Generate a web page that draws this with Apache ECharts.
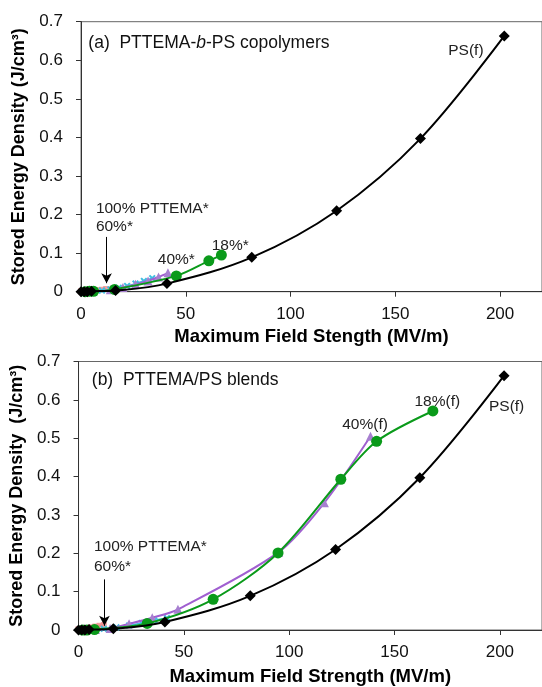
<!DOCTYPE html>
<html>
<head>
<meta charset="utf-8">
<script src="https://cdn.jsdelivr.net/npm/echarts@6/dist/echarts.min.js"></script>
<style>html,body{margin:0;padding:0;background:#fff}#c{width:542px;height:687px}</style>
</head>
<body>
<div id="c"></div>
<script>
// ---- data ----
const xTicks = [0, 50, 100, 150, 200];
const yTicks = [0, 0.1, 0.2, 0.3, 0.4, 0.5, 0.6, 0.7];

// PS(f) reference film (both panels)
const psX = [0, 1.5, 3, 5, 16.5, 41, 81.5, 122, 162, 202];
const psY = [0, 0, 0, 0.001, 0.003, 0.021, 0.089, 0.21, 0.397, 0.663];

// (a) copolymers
const a100X = [0, 2, 4, 6, 8, 10, 12];
const a100Y = [0.001, 0.002, 0.002, 0.003, 0.004, 0.005, 0.007];
const a60X = [10, 14, 18, 22, 26, 30, 34];
const a60Y = [0.003, 0.006, 0.010, 0.015, 0.021, 0.028, 0.035];
const a40X = [14, 20, 26, 32, 37, 41.5];
const a40Y = [0.005, 0.011, 0.019, 0.028, 0.038, 0.049];
const a18X = [2, 4, 6, 16, 45.5, 61, 67];
const a18Y = [0, 0.001, 0.001, 0.006, 0.041, 0.080, 0.095];

// (b) blends
const b100X = [0, 2, 4, 6, 8, 10, 12];
const b100Y = [0.002, 0.003, 0.005, 0.007, 0.009, 0.011, 0.013];
const b60X = [12, 18, 24, 30, 36, 42];
const b60Y = [0.003, 0.007, 0.012, 0.018, 0.025, 0.031];
const b40X = [8, 15, 24, 35, 47.2, 95, 116.7, 138.6];
const b40Y = [0.001, 0.004, 0.016, 0.032, 0.054, 0.203, 0.332, 0.505];
const b18X = [2, 4, 7.6, 32.6, 63.9, 94.7, 124.5, 141.5, 168.2];
const b18Y = [0, 0, 0.001, 0.017, 0.080, 0.201, 0.393, 0.492, 0.571];

// annotations (data coordinates)
const annotA = [
  {t: '100% PTTEMA*', x: 7.1, y: 0.216, align: 'left'},
  {t: '60%*', x: 7.1, y: 0.168, align: 'left'},
  {t: '40%*', x: 45.5, y: 0.084, align: 'center'},
  {t: '18%*', x: 71.2, y: 0.118, align: 'center'},
  {t: 'PS(f)', x: 183.7, y: 0.626, align: 'center'}
];
const annotB = [
  {t: '100% PTTEMA*', x: 7.3, y: 0.216, align: 'left'},
  {t: '60%*', x: 7.3, y: 0.164, align: 'left'},
  {t: '40%(f)', x: 136, y: 0.535, align: 'center'},
  {t: '18%(f)', x: 170.3, y: 0.596, align: 'center'},
  {t: 'PS(f)', x: 203.2, y: 0.582, align: 'center'}
];
const arrowA = [[12.2, 0.142], [12.2, 0.022]];
const arrowB = [[12.3, 0.132], [12.3, 0.011]];
const titleA = {x: 3.5, y: 0.645};
const titleB = {x: 6.3, y: 0.652};

// ---- chart ----
const FONT = "'Liberation Sans', Arial, sans-serif";
const zip = (xs, ys) => xs.map((x, i) => [x, ys[i]]);
const crossPath = 'path://M0,2L2,0L5,3L8,0L10,2L7,5L10,8L8,10L5,7L2,10L0,8L3,5Z';

function xAx(gi, name, gap) {
  return {
    gridIndex: gi, type: 'value', min: 0, max: 220, interval: 50,
    name: name, nameLocation: 'middle', nameGap: gap,
    nameTextStyle: {fontFamily: FONT, fontSize: 18.5, fontWeight: 'bold', color: '#000'},
    axisLine: {show: true, lineStyle: {color: '#333', width: 1}},
    axisTick: {show: true, length: 5, lineStyle: {color: '#333'}},
    axisLabel: {fontFamily: FONT, fontSize: 17, color: '#111', margin: 14, showMaxLabel: false},
    splitLine: {show: false}
  };
}
function yAx(gi, name, gap) {
  return {
    gridIndex: gi, type: 'value', min: 0, max: 0.7, interval: 0.1,
    name: name, nameLocation: 'middle', nameGap: gap,
    nameTextStyle: {fontFamily: FONT, fontSize: 18, fontWeight: 'bold', color: '#000'},
    axisLine: {show: true, lineStyle: {color: '#333', width: 1}},
    axisTick: {show: true, length: 5, lineStyle: {color: '#333'}},
    axisLabel: {fontFamily: FONT, fontSize: 17, color: '#111', margin: 18,
      formatter: v => (v === 0 ? '0' : v.toFixed(1))},
    splitLine: {show: false}
  };
}
function panelSeries(gi, d100, d60, d40, d18, arrow) {
  return [
    {type: 'line', xAxisIndex: gi, yAxisIndex: gi, data: d100, smooth: 0.3,
      symbol: 'rect', symbolSize: 6, itemStyle: {color: '#f08a8a', opacity: 0.8},
      lineStyle: {color: '#f08a8a', width: 2}, z: 2,
      markLine: {silent: true, symbol: ['none', 'arrow'], symbolSize: [8, 10],
        lineStyle: {color: '#000', width: 1, type: 'solid'}, label: {show: false},
        data: [[{coord: arrow[0]}, {coord: arrow[1]}]]}},
    {type: 'line', xAxisIndex: gi, yAxisIndex: gi, data: d60, smooth: 0.3,
      symbol: crossPath, symbolSize: 7, itemStyle: {color: '#3fbfe0'},
      lineStyle: {color: '#3fbfe0', width: 1.5}, z: 3},
    {type: 'line', xAxisIndex: gi, yAxisIndex: gi, data: d40, smooth: 0.3,
      symbol: 'triangle', symbolSize: 9, itemStyle: {color: '#a77fd0'},
      lineStyle: {color: '#a05fd0', width: 2}, z: 4},
    {type: 'line', xAxisIndex: gi, yAxisIndex: gi, data: d18, smooth: 0.3,
      symbol: 'circle', symbolSize: 11, itemStyle: {color: '#0a9a1a'},
      lineStyle: {color: '#0a9a1a', width: 2}, z: 5},
    {type: 'line', xAxisIndex: gi, yAxisIndex: gi, data: zip(psX, psY), smooth: 0.35,
      symbol: 'diamond', symbolSize: 11, itemStyle: {color: '#000'},
      lineStyle: {color: '#000', width: 2}, z: 6}
  ];
}

const chart = echarts.init(document.getElementById('c'), null, {renderer: 'canvas'});
chart.setOption({
  animation: false,
  backgroundColor: '#fff',
  grid: [
    {left: 81, top: 21.7, width: 462, height: 270, show: true, borderColor: '#666', borderWidth: 1},
    {left: 74.5, top: 361.5, width: 468, height: 269.5, show: true, borderColor: '#666', borderWidth: 1}
  ],
  xAxis: [xAx(0, 'Maximum Field Stength (MV/m)', 36), xAx(1, 'Maximum Field Strength (MV/m)', 37)],
  yAxis: [yAx(0, 'Stored Energy Density (J/cm³)', 50), yAx(1, 'Stored Energy Density  (J/cm³)', 44)],
  series: [
    ...panelSeries(0, zip(a100X, a100Y), zip(a60X, a60Y), zip(a40X, a40Y), zip(a18X, a18Y), arrowA),
    ...panelSeries(1, zip(b100X, b100Y), zip(b60X, b60Y), zip(b40X, b40Y), zip(b18X, b18Y), arrowB)
  ]
});

function textEls(gi, list) {
  return list.map(a => {
    const p = chart.convertToPixel({gridIndex: gi}, [a.x, a.y]);
    return {type: 'text', x: p[0], y: p[1], z: 100,
      style: {text: a.t, fill: '#222', font: '15.5px ' + FONT, align: a.align, verticalAlign: 'middle'}};
  });
}
function titleEl(gi, pos, txt) {
  const p = chart.convertToPixel({gridIndex: gi}, [pos.x, pos.y]);
  return {type: 'text', x: p[0], y: p[1], z: 100,
    style: {text: txt, fill: '#111', fontFamily: FONT, fontSize: 17.5, align: 'left', verticalAlign: 'middle',
      rich: {i: {fontStyle: 'italic', fontFamily: FONT, fontSize: 17.5, fill: '#111'}}}};
}
chart.setOption({
  graphic: [
    ...textEls(0, annotA), ...textEls(1, annotB),
    titleEl(0, titleA, '(a)  PTTEMA-{i|b}-PS copolymers'),
    titleEl(1, titleB, '(b)  PTTEMA/PS blends')
  ]
});
</script>
</body>
</html>
